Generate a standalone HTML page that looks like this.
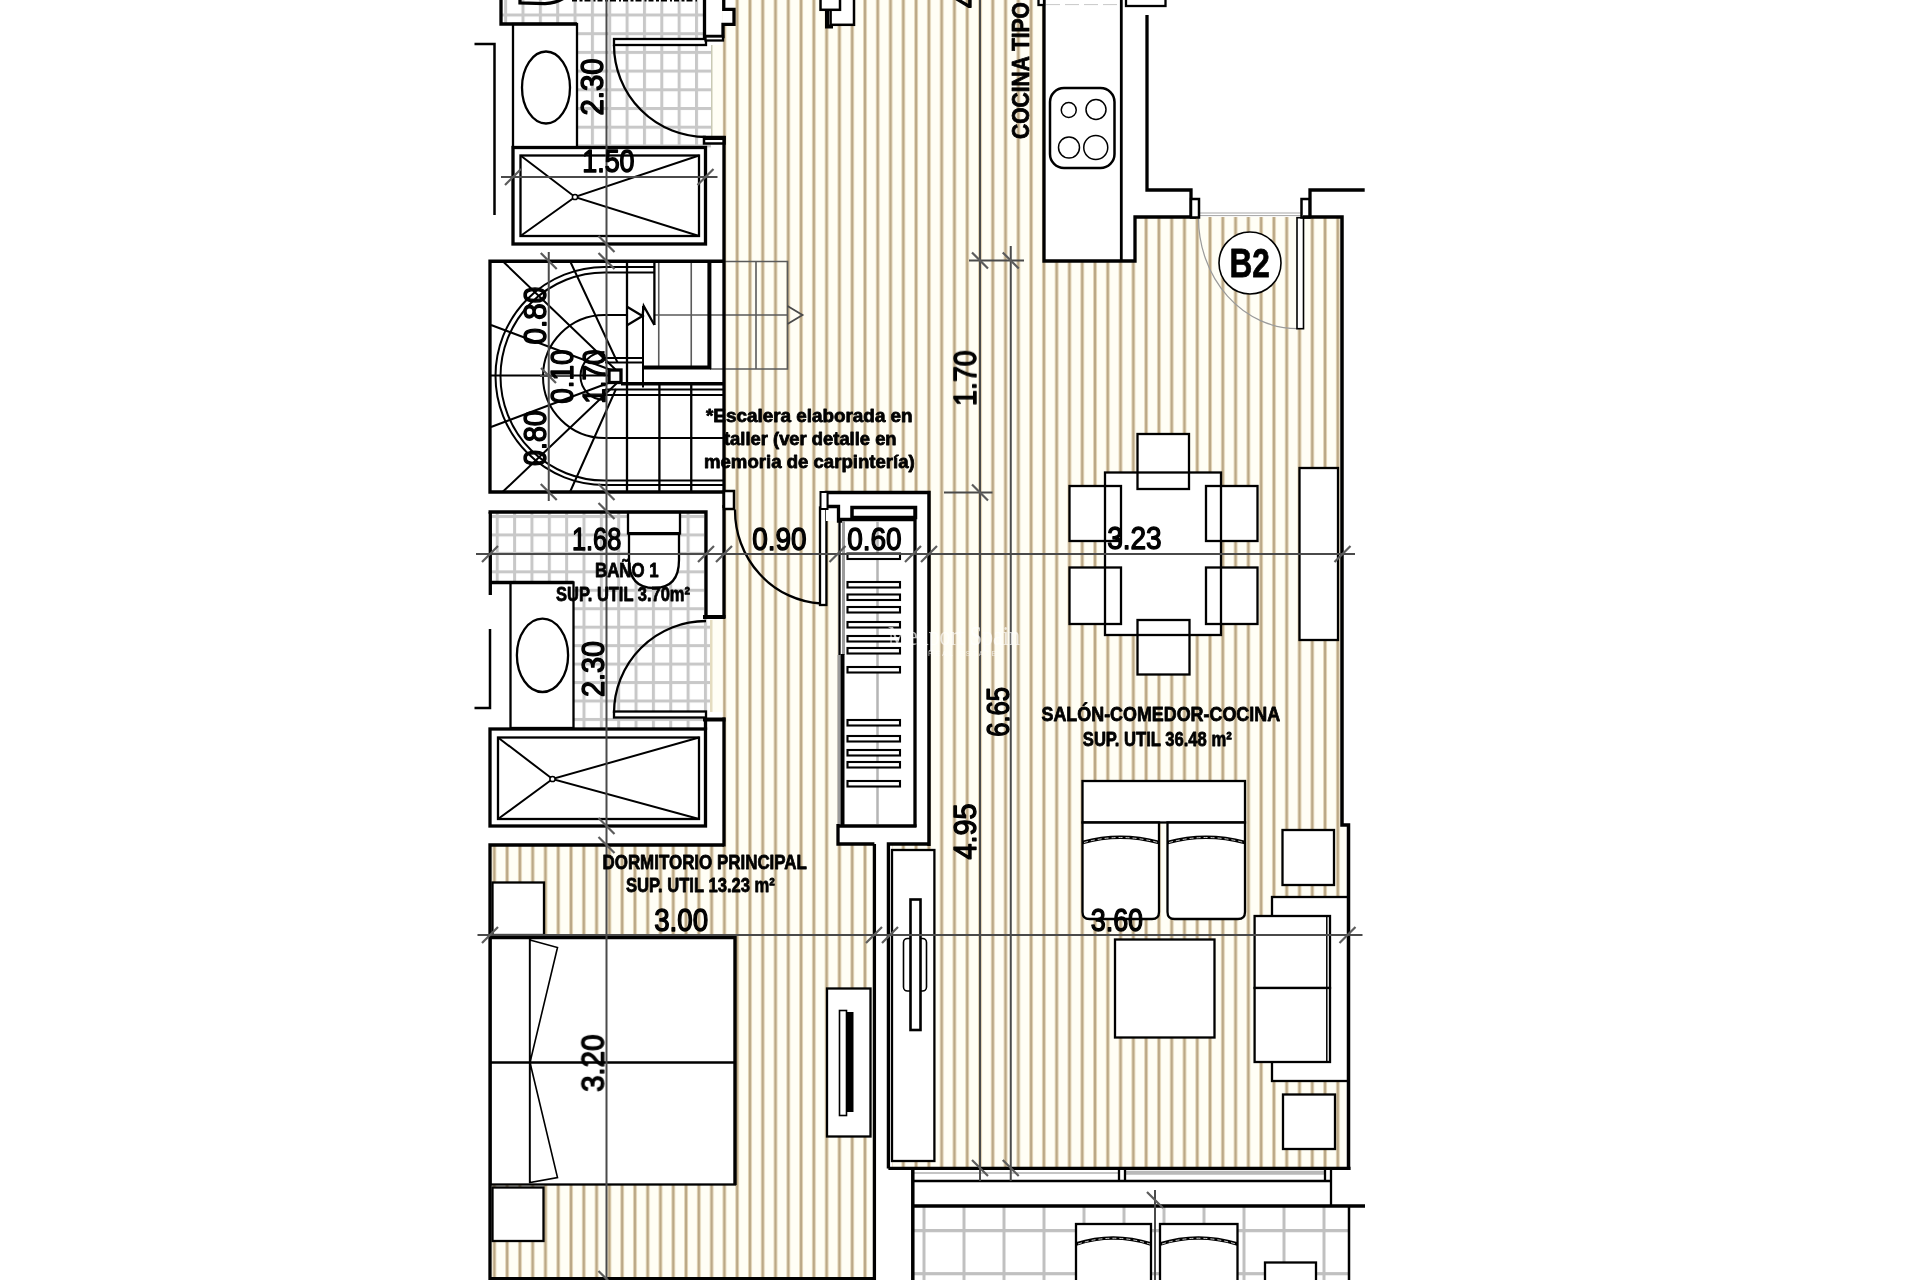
<!DOCTYPE html>
<html>
<head>
<meta charset="utf-8">
<title>Plano B2</title>
<style>
html,body{margin:0;padding:0;background:#fff;}
body{width:1920px;height:1280px;overflow:hidden;font-family:"Liberation Sans",sans-serif;}
svg{display:block;}
.w{fill:#fff;stroke:#000;stroke-width:2.3;}
.w3{fill:#fff;stroke:#000;stroke-width:3.3;}
.k{fill:none;stroke:#000;stroke-width:3.3;}
.k2{fill:none;stroke:#000;stroke-width:2.3;}
.k4{fill:none;stroke:#000;stroke-width:4;}
.t{fill:none;stroke:#000;stroke-width:1.5;}
.t2{fill:none;stroke:#000;stroke-width:2;}
.g{fill:none;stroke:#555;stroke-width:1.5;}
.d{fill:none;stroke:#4a4a4a;stroke-width:2;}
.tk{fill:none;stroke:#5c5c5c;stroke-width:2.2;}
text{font-family:"Liberation Sans",sans-serif;fill:#000;}
.num{font-size:31px;stroke:#000;stroke-width:1.4px;stroke-linejoin:round;}
#text{opacity:.999;}
.lbl{font-size:19px;font-weight:bold;}
.bl{stroke:#000;stroke-width:.8px;stroke-linejoin:round;}
</style>
</head>
<body>
<svg width="1920" height="1280" viewBox="0 0 1920 1280">
<defs>
<pattern id="st" patternUnits="userSpaceOnUse" x="722.4" y="0" width="12.78" height="40">
<rect x="0" y="0" width="12.78" height="40" fill="#fffef5"/>
<rect x="0" y="0" width="4" height="40" fill="#e3d6b9"/>
<rect x="1" y="0" width="2" height="40" fill="#bba886"/>
</pattern>
<pattern id="tl1" patternUnits="userSpaceOnUse" x="590.9" y="32.2" width="17.35" height="18.7">
<rect x="0" y="0" width="17.35" height="18.7" fill="#fff"/>
<rect x="0" y="0" width="3" height="18.7" fill="#c8c8c8"/>
<rect x="0" y="0" width="17.35" height="3" fill="#c8c8c8"/>
</pattern>
<pattern id="tl2" patternUnits="userSpaceOnUse" x="582.5" y="515" width="17.35" height="18.45">
<rect x="0" y="0" width="17.35" height="18.45" fill="#fff"/>
<rect x="0" y="0" width="3" height="18.45" fill="#c8c8c8"/>
<rect x="0" y="0" width="17.35" height="3" fill="#c8c8c8"/>
</pattern>
<pattern id="tr" patternUnits="userSpaceOnUse" x="922.5" y="1229" width="40" height="43.1">
<rect x="0" y="0" width="40" height="43.1" fill="#fff"/>
<rect x="0" y="0" width="3" height="43.1" fill="#c0c0c0"/>
<rect x="0" y="0" width="40" height="3.2" fill="#c0c0c0"/>
</pattern>
</defs>
<rect x="0" y="0" width="1920" height="1280" fill="#fff"/>

<!-- STRIPED FLOOR -->
<g id="floor">
<rect x="711" y="45" width="13" height="91" fill="#fffef5"/>
<rect x="711" y="620" width="13" height="92" fill="#fffef5"/>
<rect x="709.5" y="45" width="3" height="91" fill="#c9c9b4"/>
<rect x="709.5" y="620" width="3" height="92" fill="#e4dcc0"/>
<rect x="722.6" y="0" width="321.4" height="262" fill="url(#st)"/>
<rect x="1135" y="217" width="207" height="45" fill="url(#st)"/>
<rect x="722.6" y="261" width="619.4" height="565" fill="url(#st)"/>
<rect x="722.6" y="825" width="623.4" height="343" fill="url(#st)"/>
<rect x="490" y="845" width="384" height="434" fill="url(#st)"/>
</g>

<!-- TILES -->
<g id="tiles">
<rect x="501" y="0" width="204" height="24" fill="url(#tl1)"/>
<rect x="577" y="24" width="128" height="16" fill="url(#tl1)"/>
<rect x="577" y="40" width="134" height="108" fill="url(#tl1)"/>
<rect x="490" y="511" width="216" height="72" fill="url(#tl2)"/>
<rect x="573" y="582" width="133" height="36" fill="url(#tl2)"/>
<rect x="573" y="617" width="137" height="112" fill="url(#tl2)"/>
<rect x="913" y="1206" width="436" height="74" fill="url(#tr)"/>
</g>

<!-- ===== FURNITURE / FIXTURES ===== -->
<g id="furn">
<!-- top bath -->
<rect class="w" x="513" y="24" width="64" height="123.5"/>
<ellipse class="w" cx="546" cy="87.5" rx="24" ry="36"/>
<rect class="w3" x="513" y="147.5" width="192.5" height="96.5"/>
<rect class="w" x="520.5" y="155.5" width="178.5" height="80.5"/>
<path class="t2" d="M520.5,155.5 L575,197 L699,155.5 M520.5,236 L575,197 L699,236"/>
<circle class="w" cx="575" cy="197" r="2.6" style="stroke-width:1.5"/>
<rect class="w" x="614" y="39" width="92" height="6"/>
<path class="k2" d="M614,45 A92,92 0 0 0 706,137"/>
<!-- bath 1 -->
<rect class="w" x="510.5" y="582.5" width="63" height="145.5"/>
<ellipse class="w" cx="542.5" cy="655.3" rx="25.6" ry="36.7"/>
<rect class="w" x="628" y="512" width="52" height="21.5"/>
<path class="w" d="M629,534 L629,560 Q629,588 654,588 Q679,588 679,560 L679,534"/>
<path class="k" d="M628,533.7 L680,533.7"/>
<rect class="w3" x="490" y="729" width="215.5" height="97"/>
<rect class="w" x="498" y="737.5" width="201" height="81.5"/>
<path class="t2" d="M498,737.5 L552.5,779 L699,737.5 M498,819 L552.5,779 L699,819"/>
<circle class="w" cx="552.5" cy="779" r="2.6" style="stroke-width:1.5"/>
<rect class="w" x="614" y="711.5" width="92" height="6"/>
<path class="k2" d="M706,621 A92,92 0 0 0 614,713"/>
<!-- hall door 0.90 -->
<rect class="w" x="820" y="507.5" width="6.4" height="97.5"/>
<path class="k2" d="M735,509.5 A91.3,93.5 0 0 0 821,603.5"/>
<!-- closet -->
<rect x="826" y="492.5" width="103" height="28.5" fill="#fff"/>
<rect x="838" y="520" width="91" height="325" fill="#fff"/>
<rect x="838" y="826" width="91" height="19" fill="#fff"/>
<rect x="873.4" y="844" width="18.6" height="436" fill="#fff"/>
<!-- kitchen hob -->
<rect class="w" x="1050" y="88" width="64.5" height="80" rx="14" ry="14" style="stroke-width:2.5"/>
<circle class="t" cx="1068.75" cy="110" r="7.5"/>
<circle class="t" cx="1096" cy="109.5" r="10"/>
<circle class="t" cx="1069" cy="147.5" r="10.5"/>
<circle class="t" cx="1095.75" cy="147.5" r="12"/>
<!-- B2 door -->
<path d="M1198.5,217.7 A99,111 0 0 0 1297.5,328.7" fill="none" stroke="#9a9a9a" stroke-width="1.2"/>
<path d="M1199,213 L1301,213 M1199,215.6 L1301,215.6" fill="none" stroke="#a5a5a5" stroke-width="1"/>
<rect class="w" x="1297" y="217.7" width="6.5" height="111" style="stroke-width:1.6"/>
<circle cx="1250" cy="263" r="31" fill="#fff" stroke="#000" stroke-width="1.6"/>
<!-- dining -->
<rect x="1105" y="472.5" width="116" height="162.5" fill="#fff"/>
<rect x="1137.5" y="434" width="51.5" height="55" fill="#fff"/>
<rect x="1137.5" y="620" width="52" height="54.5" fill="#fff"/>
<rect x="1069.5" y="486" width="51.5" height="55" fill="#fff"/>
<rect x="1069.5" y="567.5" width="51.5" height="56.5" fill="#fff"/>
<rect x="1206" y="486" width="51.5" height="55" fill="#fff"/>
<rect x="1206" y="567.5" width="51.5" height="56.5" fill="#fff"/>
<g class="k2">
<rect x="1105" y="472.5" width="116" height="162.5"/>
<rect x="1137.5" y="434" width="51.5" height="55"/>
<rect x="1137.5" y="620" width="52" height="54.5"/>
<rect x="1069.5" y="486" width="51.5" height="55"/>
<rect x="1069.5" y="567.5" width="51.5" height="56.5"/>
<rect x="1206" y="486" width="51.5" height="55"/>
<rect x="1206" y="567.5" width="51.5" height="56.5"/>
</g>
<rect class="w" x="1299.5" y="468" width="38.5" height="172"/>
<!-- sofa 1 -->
<rect class="w" x="1082.5" y="781" width="162.5" height="41.5"/>
<path class="w" d="M1082.5,822.5 L1159,822.5 L1159,912 Q1159,919 1152,919 L1089.5,919 Q1082.5,919 1082.5,912 Z"/>
<path class="w" d="M1167.5,822.5 L1245,822.5 L1245,912 Q1245,919 1238,919 L1174.5,919 Q1167.5,919 1167.5,912 Z"/>
<path class="k2" d="M1082.5,842.5 Q1120,832 1159,842.5 M1167.5,842.5 Q1206,832 1245,842.5" style="stroke-width:3.6"/>
<path d="M1084,842.5 Q1120,832.5 1158,842.5 M1169,842.5 Q1206,832.5 1244,842.5" fill="none" stroke="#fff" stroke-width="0.8" stroke-dasharray="4 3"/>
<rect class="w" x="1115" y="939.5" width="99.5" height="98"/>
<rect class="w" x="1282.5" y="830" width="51.5" height="55"/>
<!-- sofa 2 -->
<rect class="w" x="1272" y="897" width="76.5" height="184"/>
<rect class="w" x="1254.6" y="916" width="75.4" height="72"/>
<rect class="w" x="1254.6" y="988" width="75.4" height="74"/>
<path class="t" d="M1326.8,916 L1326.8,1062"/>
<rect class="w" x="1283" y="1094.5" width="52" height="54.5"/>
<!-- bedroom -->
<rect class="w" x="492.5" y="882.5" width="51.5" height="52.5"/>
<rect class="w" x="490.5" y="937.5" width="244.5" height="247"/>
<path class="k2" d="M490,1062.5 L734,1062.5 M530,938 L530,1183"/>
<path class="w" d="M530,940 L557.5,947.5 L530,1062.5 Z M530,1062.5 L557.5,1177.5 L530,1182.5 Z" style="stroke-width:1.6"/>
<path class="k" d="M490,937.5 L735,937.5 L735,1185"/>
<rect class="w" x="492.5" y="1187.5" width="51" height="53.5"/>
<rect class="w" x="827" y="988.5" width="43.5" height="148"/>
<rect class="w" x="839.5" y="1010.5" width="7" height="105" style="stroke-width:1.6"/>
<rect x="846.5" y="1012" width="7" height="100" fill="#000"/>
<!-- tall cabinet + sliding door -->
<rect class="w" x="892" y="850" width="42.4" height="311"/>
<rect class="w" x="903.5" y="938.5" width="23" height="52.5" rx="4" ry="4" style="stroke-width:1.6"/>
<rect class="w" x="910.5" y="899.5" width="10" height="130.5" style="stroke-width:2.6"/>
<!-- terrace -->
<rect class="w" x="1076" y="1224" width="75" height="60"/>
<rect class="w" x="1160" y="1224" width="77.5" height="60"/>
<path class="k2" d="M1076,1244 Q1113,1232 1151,1244 M1160,1244 Q1198,1232 1237.5,1244" style="stroke-width:3.6"/>
<path d="M1078,1244 Q1113,1232.5 1150,1244 M1162,1244 Q1198,1232.5 1236,1244" fill="none" stroke="#fff" stroke-width="0.8" stroke-dasharray="4 3"/>
<rect class="w" x="1265" y="1262.5" width="51" height="30"/>
</g>

<!-- ===== STAIRS ===== -->
<g id="stairs" style="--x:0">
<rect x="490" y="261" width="234" height="231" fill="#fff"/>
<!-- gray extension over hall -->
<path d="M710,261.5 L787.5,261.5 L787.5,369 L710,369 M756,261.5 L756,369 M655,315 L787.5,315 M658.75,262 L658.75,366 M691.25,262 L691.25,366" fill="none" stroke="#5a5a5a" stroke-width="1.6"/>
<path d="M787.5,306 L802.5,315 L787.5,324" fill="none" stroke="#4a4a4a" stroke-width="1.8"/>
<!-- arcs -->
<path class="t2" d="M654,267 L604.5,267 A109,109 0 0 0 604.5,485 L724,485"/>
<path class="t2" d="M654,272.5 L604.5,272.5 A104,104 0 0 0 604.5,480.5 L724,480.5"/>
<path class="t2" d="M627,315 L604.5,315 A61.5,61.5 0 0 0 604.5,438 L724,438"/>
<path class="t2" d="M604.5,352 A24,24 0 0 0 604.5,400"/>
<!-- winders -->
<path class="t2" d="M502.5,261 L617,371 M570,261 L617.5,362.5 M491,325 L611,370 M490,375.5 L609,375.5 M491,427 L611,382 M502.5,492 L617.5,382.5 M570,492 L616,389"/>
<!-- straight flights -->
<path class="k2" d="M627,262 L627,491 M654.4,262 L654.4,325 M659.4,384 L659.4,491 M691.25,384 L691.25,491"/>
<path class="t2" d="M605,358 L643,358 M605,362.5 L643,362.5 M643,306 L643,387.5 M605,389.4 L724,389.4 M605,395 L724,395"/>
<path class="k4" d="M643,367.5 L711,367.5 M709.4,261 L709.4,369"/>
<path class="k" d="M621,383.75 L724,383.75"/>
<rect class="w3" x="609" y="370" width="12" height="12.5"/>
<!-- arrow + break -->
<path class="k2" d="M627.5,307 L642.5,316 L627.5,325 M642.5,316 L643.75,306 L654.4,325"/>
<!-- outer -->
<path class="k" d="M724,261.25 L490,261.25 L490,492 L724,492"/>
</g>

<!-- ===== WALLS ===== -->
<g id="walls">
<!-- top bath -->
<path class="k" d="M501,-2 L501,24 L577,24"/>
<path class="k" d="M474.5,44 L494.5,44 L494.5,215" style="stroke-width:2.5"/>
<path class="k" d="M704.5,-2 L704.5,38"/>
<rect x="722.6" y="-2" width="11.4" height="26.4" fill="#fff"/>
<path class="k" d="M723.75,-2 L723.75,9.4 L734,9.4 L734,24.4 L723,24.4 L723,36.5 L703,36.5"/>
<rect class="w" x="705.5" y="36.5" width="17.5" height="4"/>
<path class="k" d="M520,-2 L520,3 L545,3.6 Q556,3.2 564,-2"/>
<path d="M572,0.3 L697,0.3" fill="none" stroke="#000" stroke-width="2.2" stroke-dasharray="5 2.5 3 2 6 3 2 2"/>
<rect class="w3" x="704" y="137" width="20.5" height="6.5" style="stroke-width:2.5"/>
<path class="k4" d="M703,138 L725.5,138"/>
<path class="k" d="M724,136 L724,508"/>
<!-- hall top element -->
<rect class="w" x="830.6" y="-3" width="23.4" height="27.8" style="stroke-width:2.5"/>
<rect class="w" x="820.5" y="-3" width="19.5" height="12.8" style="stroke-width:2.5"/>
<path d="M827,10 L827,26.5 L833,26.5" stroke="#000" stroke-width="4" fill="none"/>
<!-- bath 1 -->
<path class="k" d="M488.5,512 L706,512 L706,616"/>
<path class="k" d="M490.3,512 L490.3,595 M490,582.5 L573.7,582.5"/>
<path class="k" d="M474.5,708 L490,708 L490,629" style="stroke-width:2.5"/>
<path class="k" d="M724,505 L724,618"/>
<path class="k4" d="M703,617 L725.5,617"/>
<path class="k4" d="M703,719.5 L725.5,719.5"/>
<path class="k" d="M705.5,718 L705.5,730 M724,717.5 L724,846.5"/>
<rect class="w" x="724" y="491" width="10" height="18" style="stroke-width:2.5"/>
<!-- bedroom -->
<path class="k" d="M724,845 L490,845 L490,1278.7 L875.9,1278.7"/>
<path class="k" d="M874.4,844 L874.4,1280"/>
<!-- T wall -->
<path class="k" d="M838,824 L838,844 L874.4,844 M888.4,1168.4 L888.4,844 L928.75,844"/>
<!-- closet -->
<path class="k4" d="M826.5,508 L826.5,492.5 L929,492.5 L929,846" style="stroke-width:3.5"/>
<path class="k" d="M827,506.5 L838.5,506.5 L838.5,521 L843,521"/>
<rect class="w" x="852" y="507.5" width="63.5" height="10" style="stroke-width:3.5"/>
<path class="k4" d="M838,519.5 L916,519.5" style="stroke-width:3.5"/>
<path class="k" d="M915,507 L915,827"/>
<path class="k4" d="M838,826 L916.5,826" style="stroke-width:3.5"/>
<path class="k2" d="M839.5,521 L839.5,655"/>
<path d="M843.5,521 L843.5,655 M839,655 L839,824" fill="none" stroke="#9c9c9c" stroke-width="3"/>
<path class="k4" d="M842.5,654 L842.5,826"/>
<path d="M877.5,521 L877.5,824" fill="none" stroke="#b5b5b5" stroke-width="2.5"/>
<g class="w" style="stroke-width:2.1">
<rect x="847.5" y="553.5" width="52.5" height="5.5"/>
<rect x="847.5" y="582" width="52.5" height="5.5"/>
<rect x="847.5" y="594.5" width="52.5" height="5.5"/>
<rect x="847.5" y="607" width="52.5" height="5.5"/>
<rect x="847.5" y="622" width="52.5" height="5.5"/>
<rect x="847.5" y="636" width="52.5" height="5.5"/>
<rect x="847.5" y="648" width="52.5" height="5.5"/>
<rect x="847.5" y="667" width="52.5" height="5.5"/>
<rect x="847.5" y="720" width="52.5" height="5.5"/>
<rect x="847.5" y="736" width="52.5" height="5.5"/>
<rect x="847.5" y="750" width="52.5" height="5.5"/>
<rect x="847.5" y="762" width="52.5" height="5.5"/>
<rect x="847.5" y="781" width="52.5" height="5.5"/>
</g>
<rect class="w" x="820.5" y="492" width="7" height="17" style="stroke-width:2"/>
<!-- kitchen -->
<path class="k" d="M1044,-2 L1044,261 L1135,261 L1135,217 L1196,217"/>
<path class="k" d="M1121.3,-2 L1121.3,261" style="stroke-width:2.8"/>
<path d="M1046,4.6 L1121,4.6" fill="none" stroke="#c8c8c8" stroke-width="1" stroke-dasharray="14 5"/>
<rect class="w" x="1038.5" y="-3" width="5.5" height="8"/>
<rect class="w" x="1126" y="-3" width="39.5" height="9"/>
<path class="k" d="M1147,15 L1147,190 L1191,190 L1191,217"/>
<rect class="w" x="1191" y="199" width="8" height="18.5" style="stroke-width:2.5"/>
<path class="k" d="M1364.7,190 L1310,190 L1310,217"/>
<rect class="w" x="1301.5" y="199" width="8" height="18.5" style="stroke-width:2.5"/>
<path class="k" d="M1303,217 L1342,217 L1342,825 L1348.5,825 L1348.5,1170" style="stroke-width:3.5"/>
<!-- bottom wall + window -->
<path class="k" d="M888.4,1168.4 L1350.5,1168.4"/>
<rect x="914" y="1170" width="417" height="11" fill="#fff"/>
<path d="M914,1173 L1119,1173" fill="none" stroke="#8a8a8a" stroke-width="1.2"/>
<path d="M1125,1172.7 L1325,1172.7" fill="none" stroke="#b9b9b9" stroke-width="4"/>
<path class="k2" d="M914,1181 L1331,1181 M1119,1169 L1119,1181 M1125,1169 L1125,1181 M1325,1169 L1325,1181"/>
<path class="k2" d="M1331,1169 L1331,1206"/>
<path class="k" d="M912.8,1167 L912.8,1280" style="stroke-width:3.5"/>
<path class="k" d="M913,1206 L1365,1206"/>
<path class="k" d="M1349,1206 L1349,1280" style="stroke-width:2.5"/>
</g>

<!-- ===== DIMENSIONS ===== -->
<g id="dims">
<path class="d" d="M501,177 L717.5,177 M969,260.5 L1024,260.5 M944,492.5 L992.5,492.5 M476,554 L1355,554 M477.5,935 L1362.5,935"/>
<path class="d" d="M606.5,0 L606.5,1279 M548.75,252 L548.75,501 M980,0 L980,1181 M1010.75,246 L1010.75,1181 M1155,1190 L1155,1280"/>
<path class="d" d="M540,376 L574,376"/>
<!-- ticks for horizontal dims "/" -->
<g class="tk">
<path d="M505,185 l16,-16 M697.5,185 l16,-16"/>
<path d="M482,562 l16,-16 M698,562 l16,-16 M716,562 l16,-16 M829.5,562 l16,-16 M905,562 l16,-16 M921,562 l16,-16 M1334.5,562 l16,-16"/>
<path d="M482,943 l16,-16 M866,943 l16,-16 M882,943 l16,-16 M1339.5,943 l16,-16"/>
<!-- ticks for vertical dims "\" -->
<path d="M598.5,236 l16,16 M598.5,253 l16,16 M540.75,253 l16,16 M598.5,484 l16,16 M540.75,484 l16,16 M598.5,503 l16,16 M598.5,818 l16,16 M598.5,837 l16,16 M598.5,1271 l16,16"/>
<path d="M972,252.5 l16,16 M1002.75,252.5 l16,16 M972,484.5 l16,16 M972,1160 l16,16 M1002.75,1160 l16,16 M1147,1192 l16,16"/>
<path d="M541,368 l15,15"/>
</g>
</g>

<!-- ===== TEXT ===== -->
<g id="text">
<g class="num">
<text transform="translate(582.20,172) scale(0.8687,1)">1.50</text>
<text transform="translate(572.01,550) scale(0.8166,1)">1.68</text>
<text transform="translate(752.13,549.5) scale(0.9035,1)">0.90</text>
<text transform="translate(847.13,550) scale(0.9035,1)">0.60</text>
<text transform="translate(1107.13,549) scale(0.9035,1)">3.23</text>
<text transform="translate(654.15,931) scale(0.8948,1)">3.00</text>
<text transform="translate(1090.70,931) scale(0.8687,1)">3.60</text>
<text transform="translate(603,115.46) rotate(-90) scale(0.9469,1)">2.30</text>
<text transform="translate(545.5,344.47) rotate(-90) scale(0.9556,1)">0.80</text>
<text transform="translate(545.5,465.90) rotate(-90) scale(0.9208,1)">0.80</text>
<text transform="translate(572.5,403.87) rotate(-90) scale(0.9035,1)">0.10</text>
<text transform="translate(604.5,403.87) rotate(-90) scale(0.9035,1)">1.70</text>
<text transform="translate(603.7,696.92) rotate(-90) scale(0.9295,1)">2.30</text>
<text transform="translate(976,405.90) rotate(-90) scale(0.9208,1)">1.70</text>
<text transform="translate(1009,736.71) rotate(-90) scale(0.8253,1)">6.65</text>
<text transform="translate(976,859.42) rotate(-90) scale(0.9295,1)">4.95</text>
<text transform="translate(603.7,1091.97) rotate(-90) scale(0.9556,1)">3.20</text>
<text transform="translate(976,8) rotate(-90) scale(0.9,1)">4</text>
</g>
<text transform="translate(1029,139) rotate(-90) scale(0.8580,1)" font-size="24.5" font-weight="bold" class="bl">COCINA TIPO</text>
<text transform="translate(706,421.5) scale(1.0376,1)" font-size="18.2" font-weight="bold" class="bl">*Escalera elaborada en</text>
<text transform="translate(724,445) scale(1.0103,1)" font-size="18.2" font-weight="bold" class="bl">taller (ver detalle en</text>
<text transform="translate(704,467.5) scale(1.0219,1)" font-size="18.2" font-weight="bold" class="bl">memoria de carpintería)</text>
<text transform="translate(595,577) scale(0.8421,1)" font-size="20" font-weight="bold" class="bl">BAÑO 1</text>
<text transform="translate(556,601.3) scale(0.8239,1)" font-size="20" font-weight="bold" class="bl">SUP. UTIL 3.70m²</text>
<text transform="translate(1041.5,721) scale(0.8953,1)" font-size="20" font-weight="bold" class="bl">SALÓN-COMEDOR-COCINA</text>
<text transform="translate(1082.8,745.5) scale(0.8307,1)" font-size="20" font-weight="bold" class="bl">SUP. UTIL 36.48 m²</text>
<text transform="translate(602.5,869.3) scale(0.8475,1)" font-size="20" font-weight="bold" class="bl">DORMITORIO PRINCIPAL</text>
<text transform="translate(626,892.3) scale(0.8307,1)" font-size="20" font-weight="bold" class="bl">SUP. UTIL 13.23 m²</text>
<text transform="translate(1229.5,277) scale(0.7707,1)" font-size="41" font-weight="bold" class="bl">B2</text>
<text x="888" y="645" font-family="Liberation Serif" style="font-family:'Liberation Serif',serif;fill:#fff" font-size="27" opacity=".7" textLength="132" lengthAdjust="spacingAndGlyphs">Medport Spain</text>
<text x="928" y="656" font-size="7" style="fill:#fff" opacity=".7" letter-spacing="2.2">REAL ESTATE</text>
</g>

</svg>
</body>
</html>
